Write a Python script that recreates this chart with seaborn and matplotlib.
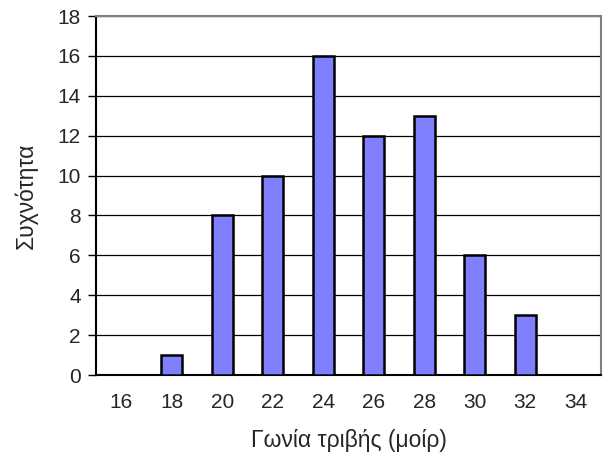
import numpy as np
import pandas as pd
import matplotlib
matplotlib.use("Agg")
import matplotlib.pyplot as plt
import seaborn as sns

# friction angle classes and counts
angles = ['16', '18', '20', '22', '24', '26', '28', '30', '32', '34']
counts = [0, 1, 8, 10, 16, 12, 13, 6, 3, 0]

df = pd.DataFrame({'angle': angles, 'count': counts})

sns.set_style('white')
plt.rcParams['font.family'] = ['Liberation Sans', 'DejaVu Sans']

fig = plt.figure(figsize=(6.08, 4.61), dpi=100)
ax = fig.add_axes([96 / 608, 1 - 375 / 461, 505 / 608, 359 / 461])

sns.barplot(data=df, x='angle', y='count', color='#8080FF', saturation=1,
            width=0.42, edgecolor='black', linewidth=1.8, ax=ax, zorder=3)

ax.set_xlim(-0.5, 9.5)
ax.set_ylim(0, 18)
ax.set_yticks(np.arange(0, 19, 2))
ax.yaxis.grid(True, color='black', linewidth=0.9, zorder=0)
ax.set_axisbelow(True)

# category ticks between bars
ax.set_xticks(np.arange(-0.5, 10, 1), minor=True)
ax.tick_params(axis='x', which='major', length=0, pad=13, labelsize=15)
ax.tick_params(axis='x', which='minor', length=12, direction='inout', width=1, color='black')
ax.tick_params(axis='y', which='major', length=6, direction='out', width=1,
               color='black', labelsize=15, left=True, pad=5)

for s in ['left', 'bottom']:
    ax.spines[s].set_color('black')
    ax.spines[s].set_linewidth(1.5)
for s in ['top', 'right']:
    ax.spines[s].set_color('#808080')
    ax.spines[s].set_linewidth(1.5)
    ax.spines[s].set_visible(True)

ax.set_xlabel('Γωνία τριβής (μοίρ)', fontsize=16.5, labelpad=12)
ax.set_ylabel('Συχνότητα', fontsize=16.5, labelpad=14)

fig.savefig('out.png', dpi=100)
